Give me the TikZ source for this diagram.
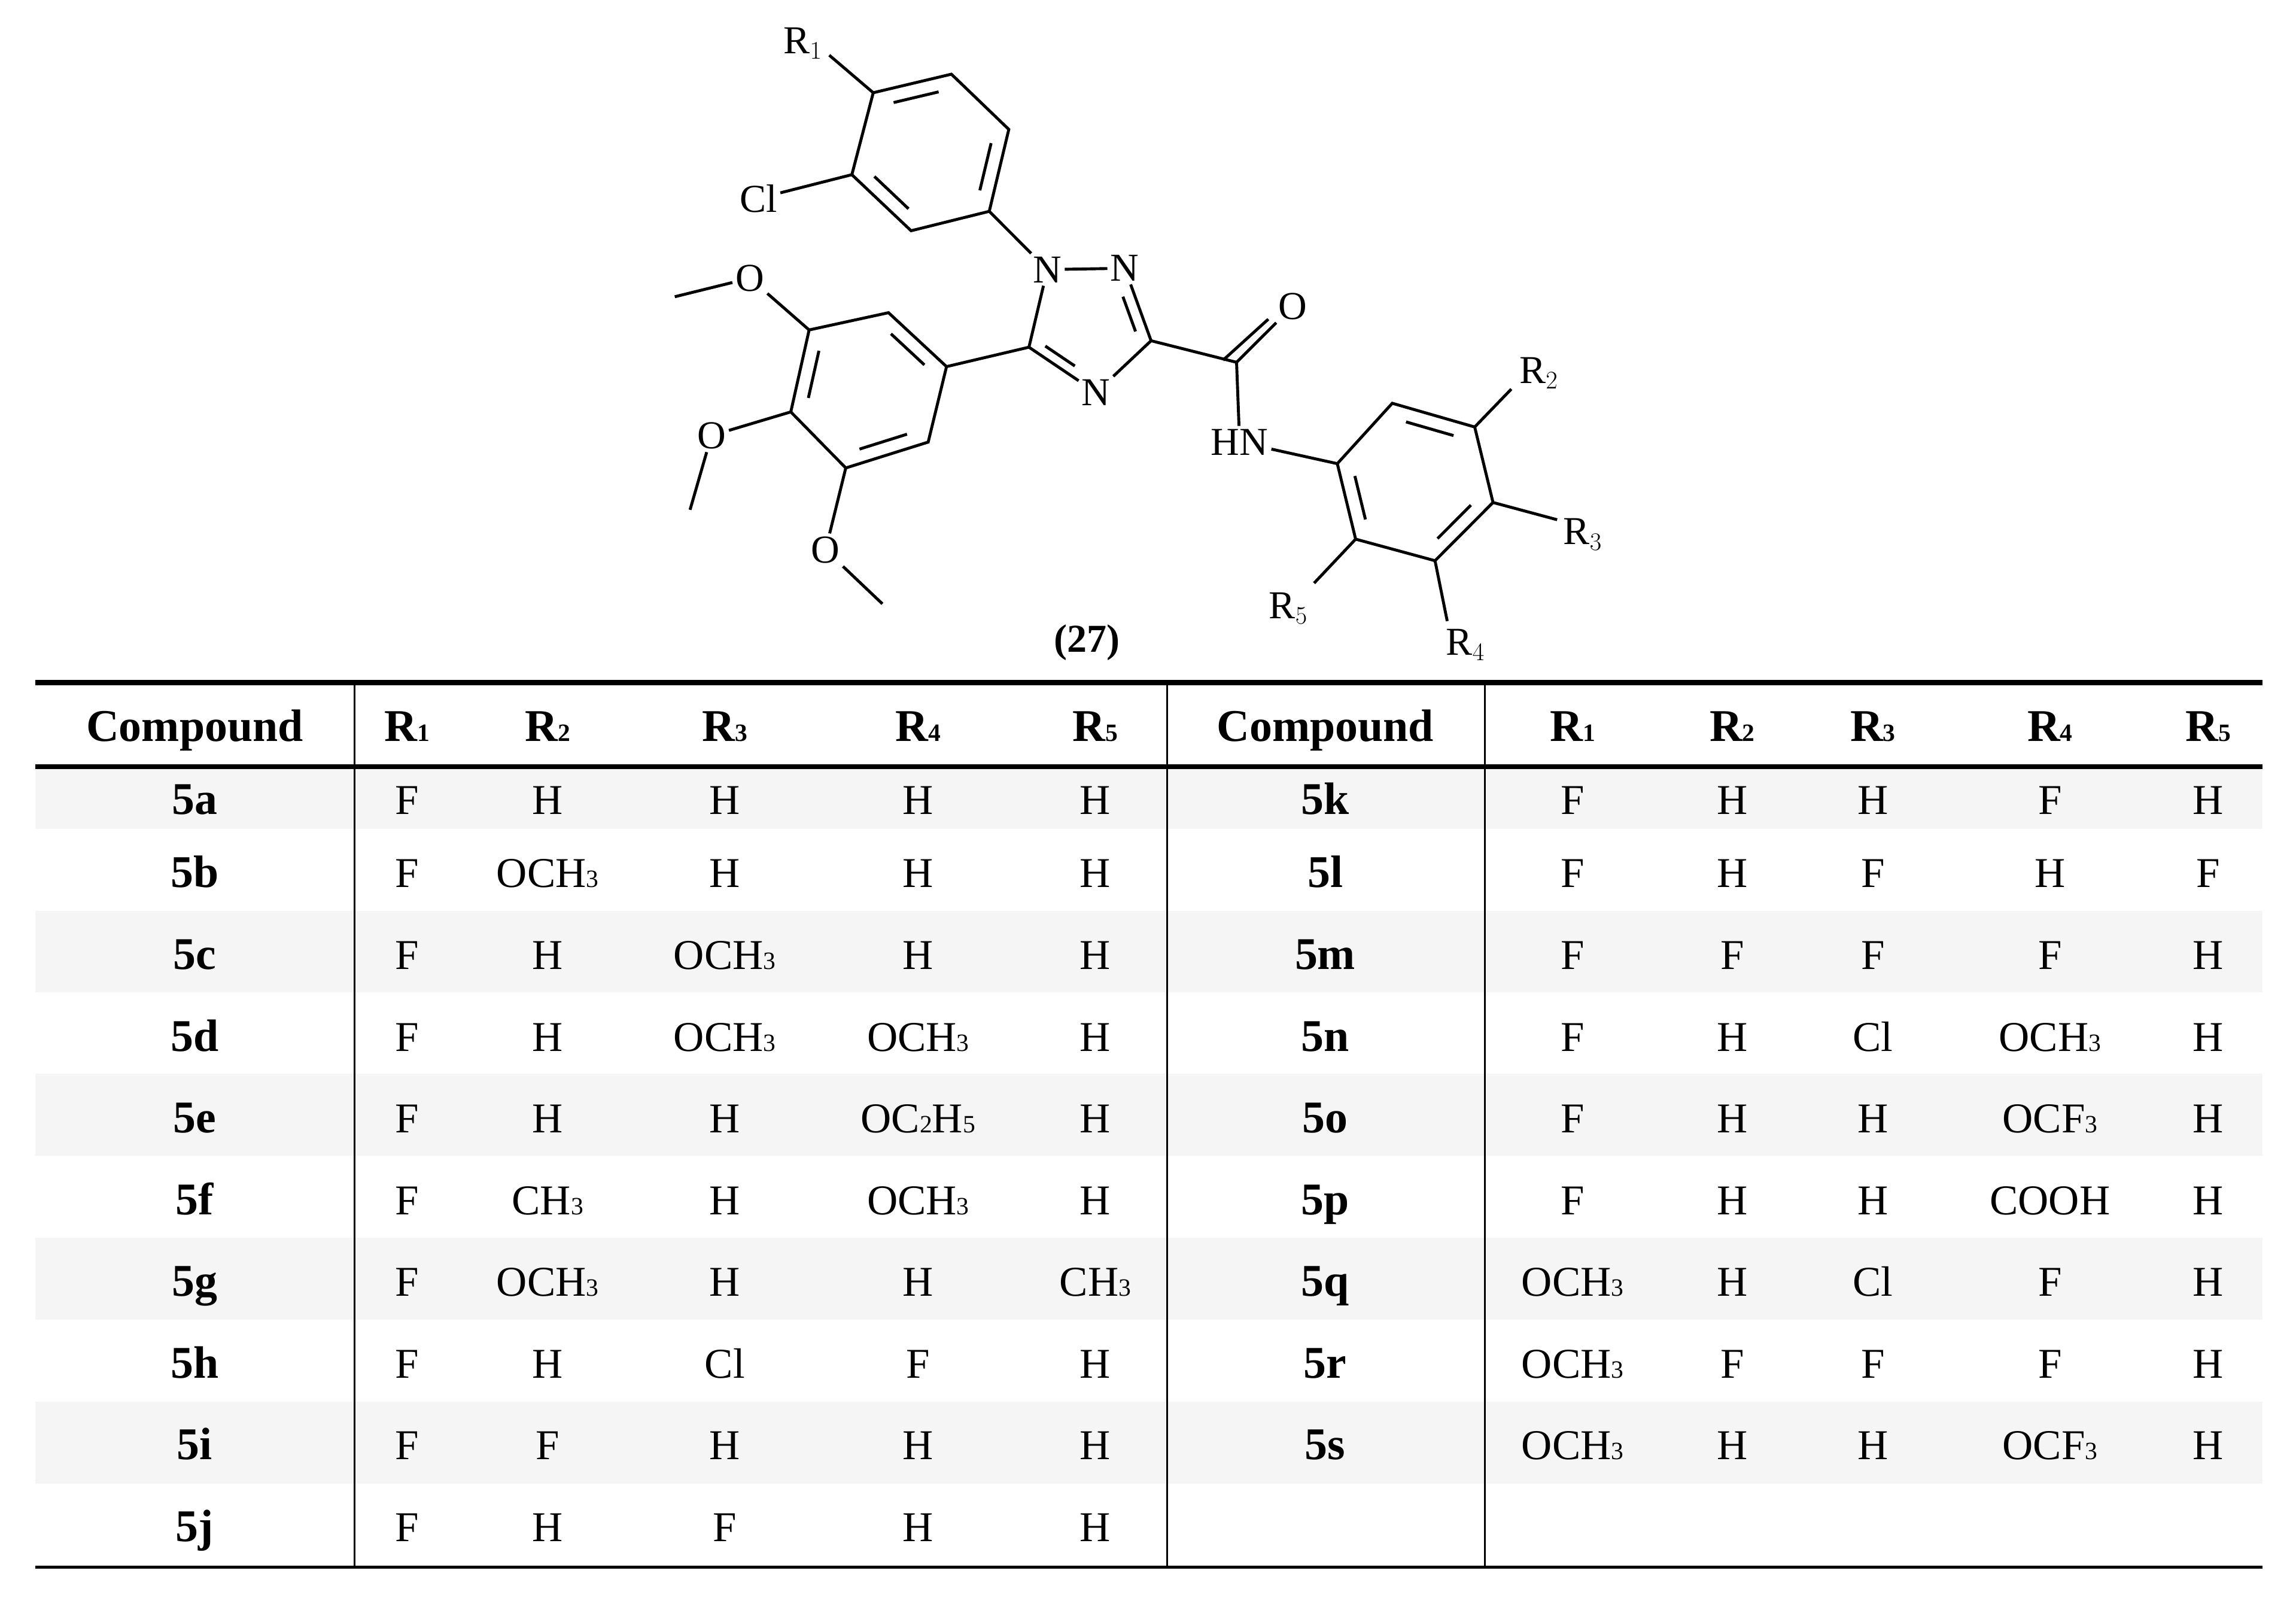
\documentclass[tikz,border=0pt]{standalone}
\usepackage{fontspec}
\setmainfont{Liberation Serif}
\usetikzlibrary{calc}
\tikzset{
 bond/.style={line width=2pt},
 atom/.style={font=\fontsize{27}{27}\selectfont, inner sep=2pt},
 cell/.style={font=\fontsize{29}{29}\selectfont, inner sep=0pt, anchor=base},
 head/.style={font=\fontsize{31}{31}\selectfont\bfseries, inner sep=0pt, anchor=base},
}
\newcommand{\dbl}[3]{\draw[bond] ($($(#1)!.14!(#2)$)!.2!(#3)$) -- ($($(#1)!.86!(#2)$)!.2!(#3)$);}
\newcommand{\sub}[1]{\raisebox{0pt}{\fontsize{17}{17}\selectfont #1}}
\begin{document}
\begin{tikzpicture}[x=1pt,y=-1pt]
\useasboundingbox (0,0) rectangle (1568,1091);
\fill[white] (0,0) rectangle (1568,1091);
\begin{scope}[xshift=408.7pt,x=0.417pt,y=-0.2945pt]
% top ring
\coordinate (a1) at (450,215); \coordinate (a2) at (578,172); \coordinate (a3) at (672,300);
\coordinate (a4) at (640,490); \coordinate (a5) at (512,535); \coordinate (a6) at (415,405);
\coordinate (ac) at (545,353);
\draw[bond] (a1)--(a2)--(a3)--(a4)--(a5)--(a6)--cycle;
\dbl{a1}{a2}{ac}\dbl{a3}{a4}{ac}\dbl{a5}{a6}{ac}
\node[atom] (R1) at (335,100) {R$_1$};
\node[atom] (Cl) at (262,460) {Cl};
\draw[bond] (a1)--(378,128);
\draw[bond] (a6)--(Cl);
% triazole
\node[atom] (N1) at (735,625) {N};
\node[atom] (N2) at (862,622) {N};
\node[atom] (N4) at (815,910) {N};
\coordinate (t3) at (905,790); \coordinate (t5) at (705,805);
\coordinate (tc) at (795,750);
\draw[bond] (a4)--(N1);
\draw[bond] (N1)--(N2);
\draw[bond] (N2)--(t3)--(N4)--(t5)--(N1);
\draw[bond] ($($(N2)!.3!(t3)$)!.2!(tc)$) -- ($($(N2)!.9!(t3)$)!.2!(tc)$);
\draw[bond] ($($(t5)!.1!(N4)$)!.2!(tc)$) -- ($($(t5)!.65!(N4)$)!.2!(tc)$);
% amide
\coordinate (cc) at (1045,840);
\node[atom] (O) at (1137,710) {O};
\node[atom] (HN) at (1050,1025) {HN};
\draw[bond] (t3)--(cc)--(HN);
\draw[bond] (cc)--(O);
\draw[bond] ($(cc)+(-22,-5)$)--($(O)+(-40,30)$);
% right ring
\coordinate (b1) at (1210,1075); \coordinate (b2) at (1300,935); \coordinate (b3) at (1435,990);
\coordinate (b4) at (1465,1165); \coordinate (b5) at (1370,1300); \coordinate (b6) at (1240,1250);
\coordinate (bc) at (1337,1120);
\draw[bond] (HN)--(b1);
\draw[bond] (b1)--(b2)--(b3)--(b4)--(b5)--(b6)--cycle;
\dbl{b2}{b3}{bc}\dbl{b4}{b5}{bc}\dbl{b6}{b1}{bc}
\node[atom] (R2) at (1540,865) {R$_2$};
\node[atom] (R3) at (1612,1239) {R$_3$};
\node[atom] (R4) at (1420,1495) {R$_4$};
\node[atom] (R5) at (1130,1410) {R$_5$};
\draw[bond] (b3)--(1495,902);
\draw[bond] (b4)--(1570,1205);
\draw[bond] (b5)--(1390,1440);
\draw[bond] (b6)--(1172,1352);
% left ring
\coordinate (c1) at (570,850); \coordinate (c2) at (475,725); \coordinate (c3) at (345,765);
\coordinate (c4) at (315,955); \coordinate (c5) at (405,1085); \coordinate (c6) at (540,1025);
\coordinate (ccn) at (442,900);
\draw[bond] (t5)--(c1);
\draw[bond] (c1)--(c2)--(c3)--(c4)--(c5)--(c6)--cycle;
\dbl{c2}{c1}{ccn}\dbl{c3}{c4}{ccn}\dbl{c5}{c6}{ccn}
\node[atom] (O1) at (248,645) {O};
\node[atom] (O2) at (185,1010) {O};
\node[atom] (O3) at (372,1275) {O};
\draw[bond] (c3)--(O1); \draw[bond] (O1)--(125,688);
\draw[bond] (c4)--(O2); \draw[bond] (O2)--(150,1182);
\draw[bond] (c5)--(O3); \draw[bond] (O3)--(465,1400);
\node[atom,font=\fontsize{27}{27}\selectfont\bfseries] (lab) at (800,1490) {(27)};
\end{scope}
% table
\foreach \a/\b in {524.6/566,622/677.5,733/789,845/901,957/1013}{\fill[black!4] (24,\a) rectangle (1545,\b);}
\draw[line width=3.5pt] (24,466)--(1545,466);
\draw[line width=3.5pt] (24,523.5)--(1545,523.5);
\draw[line width=2pt] (24,1070)--(1545,1070);
\foreach \x in {242,797,1014}{\draw[line width=1.3pt] (\x,466)--(\x,1070);}
\foreach \x/\t in {133/Compound,278/R\sub{1},374/R\sub{2},495/R\sub{3},627/R\sub{4},748/R\sub{5},905/Compound,1074/R\sub{1},1183/R\sub{2},1279/R\sub{3},1400/R\sub{4},1508/R\sub{5}}{\node[head] at (\x,506) {\t};}
\def\OCH{OCH\sub{3}}
\foreach [count=\i] \c/\p/\q/\r/\s/\u in {5a/F/H/H/H/H,5b/F/\OCH/H/H/H,5c/F/H/\OCH/H/H,5d/F/H/\OCH/\OCH/H,5e/F/H/H/OC\sub{2}H\sub{5}/H,5f/F/CH\sub{3}/H/\OCH/H,5g/F/\OCH/H/H/CH\sub{3},5h/F/H/Cl/F/H,5i/F/F/H/H/H,5j/F/H/F/H/H}{
 \pgfmathsetmacro{\yy}{(\i==1 ? 556 : 606+(\i-2)*55.8)}
 \node[head] at (133,\yy) {\c};
 \foreach \x/\t in {278/\p,374/\q,495/\r,627/\s,748/\u}{\node[cell] at (\x,\yy) {\t};}
}
\foreach [count=\i] \c/\p/\q/\r/\s/\u in {5k/F/H/H/F/H,5l/F/H/F/H/F,5m/F/F/F/F/H,5n/F/H/Cl/\OCH/H,5o/F/H/H/OCF\sub{3}/H,5p/F/H/H/COOH/H,5q/\OCH/H/Cl/F/H,5r/\OCH/F/F/F/H,5s/\OCH/H/H/OCF\sub{3}/H}{
 \pgfmathsetmacro{\yy}{(\i==1 ? 556 : 606+(\i-2)*55.8)}
 \node[head] at (905,\yy) {\c};
 \foreach \x/\t in {1074/\p,1183/\q,1279/\r,1400/\s,1508/\u}{\node[cell] at (\x,\yy) {\t};}
}
\end{tikzpicture}
\end{document}
